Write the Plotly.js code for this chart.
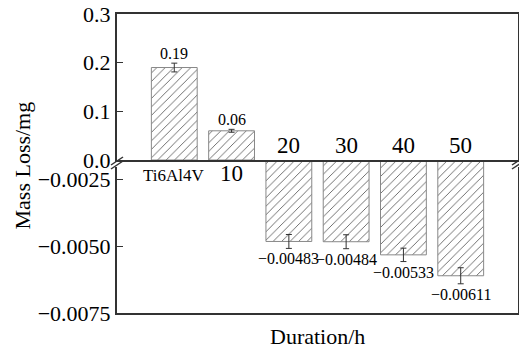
<!DOCTYPE html>
<html>
<head>
<meta charset="utf-8">
<script src="https://cdn.plot.ly/plotly-3.0.1.min.js"></script>
<style>html,body{margin:0;padding:0;background:#fff;}#chart{width:519px;height:349px;}</style>
</head>
<body>
<div id="chart"></div>
<script>
// ---- data ----
var categories = ['Ti6Al4V', '10', '20', '30', '40', '50'];
var massLoss   = [0.19, 0.06, -0.00483, -0.00484, -0.00533, -0.00611];
var errors     = [0.009, 0.003, 0.00026, 0.00026, 0.00025, 0.0003];
var topTicks    = [0, 0.1, 0.2, 0.3];
var bottomTicks = [-0.0075, -0.005, -0.0025];
var xTitle = 'Duration/h';
var yTitle = 'Mass Loss/mg';

// ---- styling ----
var FONT = 'Liberation Serif';
var AX = '#333';
var split = (313 - 160) / 299; // boundary between the two panels (paper)

function fmt(v) {
  return v >= 0 ? v.toFixed(2) : '\u2212' + Math.abs(v).toFixed(5);
}

var pattern = {shape: '/', size: 6, solidity: 0.12, fgcolor: '#3a3a3a', bgcolor: '#fff', fillmode: 'replace'};

var idx = categories.map(function (c, i) { return i; });
var topVals = massLoss.map(function (v) { return v >= 0 ? v : null; });
var botVals = massLoss.map(function (v) { return v < 0 ? v : null; });

function barTrace(yv, xa, ya) {
  return {
    type: 'bar', x: idx, y: yv, xaxis: xa, yaxis: ya,
    marker: {color: '#fff', pattern: pattern, line: {color: '#888', width: 1}},
    error_y: {type: 'data', array: errors, visible: true, color: '#333', thickness: 1, width: 3},
    showlegend: false, hoverinfo: 'skip'
  };
}
var traceTop = barTrace(topVals, 'x2', 'y2');
var traceBot = barTrace(botVals, 'x', 'y');

var annotations = [];
massLoss.forEach(function (v, i) {
  if (v >= 0) {
    annotations.push({x: i, y: v + errors[i], xref: 'x2', yref: 'y2',
      text: fmt(v), showarrow: false, yanchor: 'bottom', yshift: -1,
      font: {family: FONT, size: 16, color: '#000'}});
    annotations.push({x: i, y: split, xref: 'x', yref: 'paper',
      text: categories[i], showarrow: false, yanchor: 'middle', yshift: i === 0 ? -15 : -13,
      font: {family: FONT, size: i === 0 ? 17 : 23, color: '#000'}});
  } else {
    annotations.push({x: i, y: v - errors[i], xref: 'x', yref: 'y',
      text: fmt(v), showarrow: false, yanchor: 'top', yshift: 0,
      font: {family: FONT, size: 16, color: '#000'}});
    annotations.push({x: i, y: split, xref: 'x', yref: 'paper',
      text: categories[i], showarrow: false, yanchor: 'middle', yshift: 15,
      font: {family: FONT, size: 23, color: '#000'}});
  }
});
annotations.push({x: 0.5, y: 0, xref: 'paper', yref: 'paper', text: xTitle, showarrow: false,
  yanchor: 'middle', yshift: -23, font: {family: FONT, size: 22, color: '#000'}});
annotations.push({x: 0, y: 0.5, xref: 'paper', yref: 'paper', text: yTitle, showarrow: false,
  textangle: -90, xanchor: 'center', xshift: -95, yshift: -2, font: {family: FONT, size: 22, color: '#000'}});

function slash(xa, dy) {
  return {type: 'line', xref: 'paper', yref: 'paper', xsizemode: 'pixel', ysizemode: 'pixel',
    xanchor: xa, yanchor: split, x0: -6, x1: 6, y0: dy - 4, y1: dy + 4,
    line: {color: AX, width: 1.5}};
}
function gap(xa) {
  return {type: 'rect', xref: 'paper', yref: 'paper', xsizemode: 'pixel', ysizemode: 'pixel',
    xanchor: xa, yanchor: split, x0: -3, x1: 3, y0: -7, y1: -2, fillcolor: '#fff', line: {width: 0}};
}
var shapes = [gap(0), gap(1), slash(0, -1), slash(0, -5), slash(1, -1), slash(1, -5)];

var axisCommon = {showline: true, linecolor: AX, linewidth: 2, mirror: true, zeroline: false,
  showgrid: false, ticks: 'inside', ticklen: 6, tickwidth: 1, tickcolor: AX,
  tickfont: {family: FONT, size: 22, color: '#000'}};

var xCommon = {domain: [0, 1], range: [-1, 6], showline: true, linecolor: AX, linewidth: 2,
  showticklabels: false, ticks: '', showgrid: false, zeroline: false};

var layout = {
  width: 519, height: 349,
  margin: {l: 117, r: 1, t: 14, b: 36},
  paper_bgcolor: '#fff', plot_bgcolor: '#fff',
  font: {family: FONT, color: '#000'},
  bargap: 0.2,
  xaxis: Object.assign({}, xCommon, {anchor: 'y', mirror: false}),
  xaxis2: Object.assign({}, xCommon, {anchor: 'y2', matches: 'x', mirror: true}),
  yaxis: Object.assign({}, axisCommon, {domain: [0, split], anchor: 'x', range: [-0.0075, -0.00179],
    tickvals: bottomTicks, tickformat: '.4f'}),
  yaxis2: Object.assign({}, axisCommon, {domain: [split, 1], anchor: 'x2', range: [0, 0.3],
    tickvals: topTicks, tickformat: '.1f'}),
  annotations: annotations,
  shapes: shapes
};

Plotly.newPlot('chart', [traceTop, traceBot], layout, {displayModeBar: false, staticPlot: true});
</script>
</body>
</html>
